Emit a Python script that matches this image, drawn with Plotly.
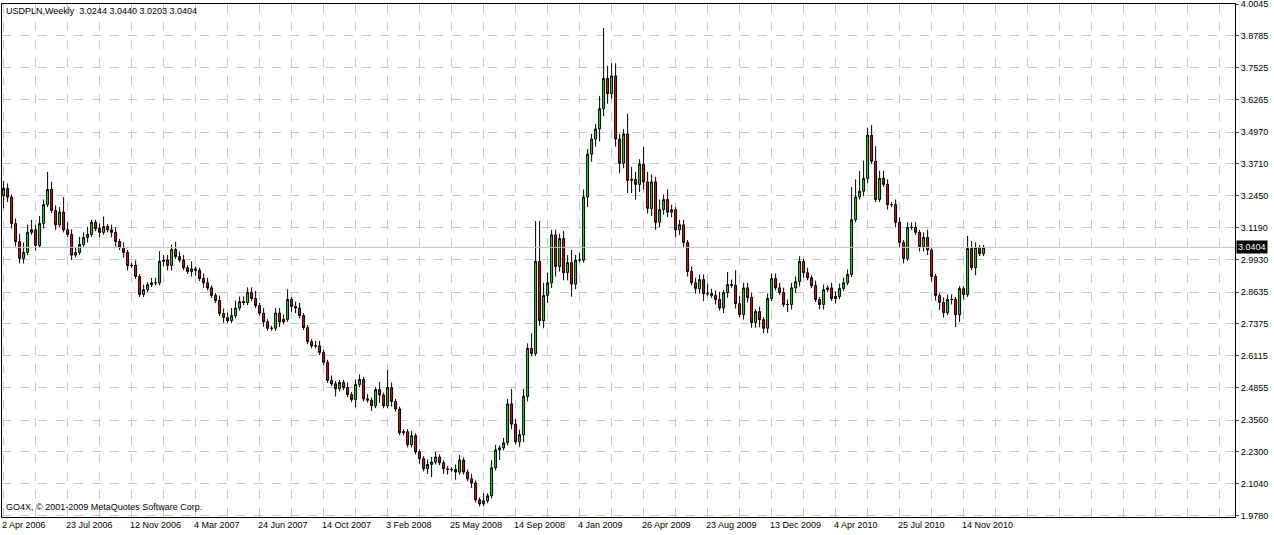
import plotly.graph_objects as go

closes = [
 3.274,3.240,3.135,3.064,2.997,3.020,3.100,3.110,3.048,3.135,
 3.210,3.270,3.187,3.130,3.180,3.110,3.092,3.010,3.020,3.052,
 3.080,3.092,3.140,3.115,3.100,3.123,3.110,3.100,3.064,3.040,
 3.020,2.969,2.969,2.925,2.854,2.873,2.893,2.900,2.900,2.985,
 2.990,2.969,3.032,3.004,2.990,2.960,2.945,2.955,2.950,2.917,
 2.900,2.880,2.850,2.830,2.778,2.762,2.750,2.770,2.800,2.826,
 2.822,2.862,2.838,2.810,2.780,2.746,2.720,2.720,2.780,2.745,
 2.755,2.834,2.806,2.800,2.770,2.723,2.667,2.650,2.650,2.624,
 2.585,2.513,2.500,2.480,2.505,2.485,2.457,2.437,2.497,2.517,
 2.440,2.435,2.413,2.477,2.455,2.413,2.485,2.430,2.400,2.306,
 2.310,2.258,2.294,2.230,2.203,2.163,2.180,2.190,2.210,2.187,
 2.163,2.160,2.160,2.150,2.198,2.150,2.123,2.107,2.040,2.024,
 2.036,2.056,2.167,2.238,2.246,2.266,2.420,2.340,2.270,2.298,
 2.450,2.640,2.620,2.985,2.750,2.850,2.900,3.090,2.965,3.075,
 2.940,2.980,2.895,2.990,2.990,3.240,3.410,3.470,3.510,3.590,
 3.710,3.650,3.720,3.470,3.374,3.490,3.306,3.310,3.290,3.370,
 3.300,3.195,3.300,3.140,3.190,3.230,3.180,3.190,3.110,3.130,
 3.060,2.945,2.900,2.877,2.913,2.857,2.857,2.850,2.834,2.800,
 2.861,2.893,2.890,2.818,2.774,2.880,2.842,2.742,2.786,2.754,
 2.720,2.838,2.917,2.880,2.861,2.814,2.814,2.880,2.905,2.985,
 2.940,2.920,2.889,2.834,2.814,2.873,2.880,2.838,2.846,2.877,
 2.900,2.933,3.150,3.240,3.263,3.314,3.485,3.382,3.230,3.314,
 3.290,3.210,3.210,3.140,3.060,2.997,3.120,3.120,3.100,3.044,
 3.080,3.030,2.925,2.850,2.822,2.782,2.834,2.834,2.774,2.877,
 2.854,3.036,2.960,3.040,3.016,3.0404]

first_open = 3.245

up_wick = [
 0.03,0.02,0.01,0.02,0.03,0.04,0.03,0.04,0.02,0.03,
 0.02,0.07,0.03,0.02,0.02,0.06,0.03,0.02,0.02,0.03,
 0.02,0.03,0.01,0.01,0.02,0.04,0.01,0.02,0.02,0.01,
 0.02,0.01,0.01,0.02,0.01,0.02,0.01,0.02,0.02,0.04,
 0.02,0.02,0.02,0.03,0.02,0.02,0.01,0.03,0.01,0.01,
 0.02,0.02,0.01,0.01,0.02,0.02,0.02,0.03,0.03,0.02,
 0.02,0.02,0.02,0.03,0.01,0.02,0.01,0.01,0.02,0.02,
 0.02,0.04,0.01,0.02,0.02,0.01,0.01,0.01,0.02,0.02,
 0.01,0.01,0.02,0.01,0.01,0.01,0.02,0.01,0.02,0.02,
 0.01,0.02,0.01,0.01,0.03,0.01,0.07,0.02,0.01,0.01,
 0.01,0.01,0.02,0.01,0.01,0.01,0.02,0.02,0.02,0.01,
 0.01,0.01,0.01,0.02,0.02,0.01,0.01,0.02,0.01,0.01,
 0.03,0.01,0.03,0.02,0.01,0.02,0.02,0.06,0.02,0.02,
 0.03,0.02,0.06,0.16,0.16,0.05,0.04,0.02,0.02,0.02,
 0.03,0.03,0.05,0.02,0.03,0.03,0.02,0.02,0.02,0.05,
 0.20,0.05,0.05,0.05,0.02,0.02,0.08,0.05,0.03,0.02,
 0.07,0.04,0.03,0.02,0.04,0.02,0.04,0.02,0.01,0.02,
 0.02,0.01,0.02,0.02,0.02,0.02,0.04,0.02,0.02,0.03,
 0.01,0.05,0.02,0.06,0.03,0.02,0.02,0.02,0.01,0.02,
 0.01,0.02,0.02,0.02,0.02,0.02,0.02,0.02,0.02,0.02,
 0.01,0.02,0.01,0.02,0.01,0.02,0.01,0.02,0.02,0.02,
 0.02,0.02,0.13,0.07,0.08,0.07,0.03,0.04,0.06,0.03,
 0.03,0.02,0.01,0.02,0.02,0.01,0.02,0.02,0.02,0.01,
 0.02,0.03,0.01,0.01,0.01,0.02,0.02,0.02,0.01,0.01,
 0.01,0.05,0.03,0.02,0.01,0.01]

dn_wick = [
 0.05,0.02,0.02,0.02,0.02,0.02,0.01,0.01,0.02,0.01,
 0.02,0.01,0.01,0.02,0.01,0.01,0.01,0.02,0.01,0.01,
 0.01,0.02,0.01,0.01,0.02,0.01,0.01,0.02,0.02,0.01,
 0.02,0.02,0.01,0.01,0.01,0.01,0.01,0.01,0.01,0.01,
 0.02,0.02,0.02,0.01,0.01,0.01,0.01,0.02,0.02,0.01,
 0.02,0.01,0.01,0.01,0.01,0.02,0.01,0.01,0.01,0.01,
 0.01,0.01,0.01,0.01,0.01,0.02,0.01,0.01,0.01,0.02,
 0.01,0.01,0.02,0.02,0.01,0.01,0.01,0.01,0.01,0.01,
 0.01,0.01,0.01,0.03,0.01,0.01,0.01,0.01,0.03,0.01,
 0.01,0.01,0.02,0.01,0.03,0.01,0.01,0.02,0.01,0.01,
 0.01,0.01,0.01,0.01,0.02,0.01,0.02,0.05,0.01,0.01,
 0.02,0.02,0.01,0.03,0.01,0.01,0.01,0.02,0.01,0.01,
 0.01,0.01,0.01,0.01,0.04,0.01,0.01,0.02,0.01,0.02,
 0.03,0.02,0.01,0.01,0.02,0.03,0.03,0.02,0.04,0.02,
 0.03,0.03,0.05,0.02,0.01,0.01,0.04,0.03,0.03,0.05,
 0.03,0.04,0.02,0.03,0.04,0.02,0.05,0.05,0.06,0.03,
 0.03,0.02,0.03,0.03,0.02,0.02,0.02,0.02,0.03,0.02,
 0.02,0.02,0.01,0.02,0.02,0.03,0.01,0.01,0.02,0.01,
 0.02,0.02,0.01,0.02,0.01,0.02,0.02,0.02,0.02,0.03,
 0.02,0.02,0.01,0.01,0.01,0.01,0.03,0.02,0.02,0.02,
 0.02,0.01,0.01,0.01,0.02,0.02,0.01,0.01,0.02,0.01,
 0.01,0.01,0.01,0.01,0.01,0.02,0.02,0.01,0.01,0.01,
 0.01,0.02,0.01,0.02,0.02,0.02,0.01,0.01,0.01,0.02,
 0.02,0.02,0.02,0.02,0.03,0.02,0.01,0.02,0.05,0.03,
 0.02,0.01,0.01,0.03,0.01,0.01]

date_labels = ["2 Apr 2006","23 Jul 2006","12 Nov 2006","4 Mar 2007","24 Jun 2007",
               "14 Oct 2007","3 Feb 2008","25 May 2008","14 Sep 2008","4 Jan 2009",
               "26 Apr 2009","23 Aug 2009","13 Dec 2009","4 Apr 2010","25 Jul 2010",
               "14 Nov 2010"]
price_ticks = [4.0045,3.8785,3.7525,3.6265,3.4970,3.3710,3.2450,3.1190,2.9930,
               2.8635,2.7375,2.6115,2.4855,2.3560,2.2300,2.1040,1.9780]
last_price = 3.0404

n = len(closes)
opens = [first_open] + closes[:-1]
highs = [max(o, c) + w for o, c, w in zip(opens, closes, up_wick[:n])]
lows = [min(o, c) - w for o, c, w in zip(opens, closes, dn_wick[:n])]
xs = list(range(n))

FONT = "Liberation Sans"

fig = go.Figure()
fig.add_trace(go.Candlestick(
    x=xs, open=opens, high=highs, low=lows, close=closes,
    increasing=dict(fillcolor="#22dd22", line=dict(color="black", width=1)),
    decreasing=dict(fillcolor="#dd1111", line=dict(color="black", width=1)),
    whiskerwidth=0, showlegend=False, hoverinfo="skip"))

fig.add_hline(y=last_price, line=dict(color="#c0c0c0", width=1))

for k, lab in enumerate(date_labels):
    fig.add_annotation(x=k * 16 - 0.3, y=0, yref="paper", yanchor="top", xanchor="left",
                       text=lab, showarrow=False, font=dict(size=9, color="black",
                       family=FONT), yshift=-1, xshift=-2)

fig.add_annotation(x=1, y=last_price, xref="paper", xanchor="left", text="3.0404",
                   showarrow=False, bgcolor="black", font=dict(size=9, color="white",
                   family=FONT), borderpad=1, xshift=1)
fig.add_annotation(x=0.002, y=1, xref="paper", yref="paper", xanchor="left", yanchor="top",
                   text="USDPLN,Weekly  3.0244 3.0440 3.0203 3.0404", showarrow=False,
                   font=dict(size=9, color="black", family=FONT))
fig.add_annotation(x=0.002, y=0.005, xref="paper", yref="paper", xanchor="left", yanchor="bottom",
                   text="GO4X, © 2001-2009 MetaQuotes Software Corp.", showarrow=False,
                   font=dict(size=9, color="black", family=FONT))

fig.update_layout(
    width=1274, height=535, paper_bgcolor="white", plot_bgcolor="white",
    margin=dict(l=2, r=39, t=4, b=18, autoexpand=False),
    xaxis=dict(range=[-0.4, 307.85], rangeslider=dict(visible=False), automargin=False,
               tickvals=list(range(0, 308, 8)), showticklabels=False,
               showgrid=True, gridcolor="#c8c8c8", griddash="dash", gridwidth=1,
               showline=True, linecolor="black", mirror=True, zeroline=False),
    yaxis=dict(range=[1.9780 - 0.006, 4.0050], side="right", tickvals=price_ticks,
               automargin=False, ticklabeloverflow="allow",
               ticktext=[f"{v:.4f}" for v in price_ticks], ticks="outside", ticklen=3,
               tickfont=dict(size=9, color="black", family=FONT),
               showgrid=True, gridcolor="#c8c8c8", griddash="dash", gridwidth=1,
               showline=True, linecolor="black", mirror=True, zeroline=False),
)
fig.write_html("out.html", config={"displayModeBar": False},
               post_script="document.body.style.margin='0';")
